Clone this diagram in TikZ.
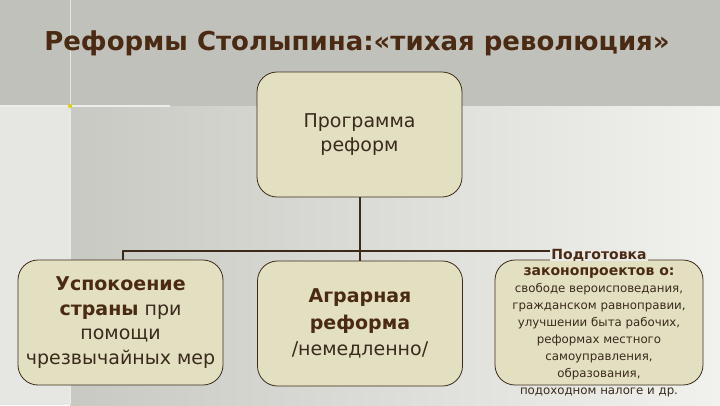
\documentclass[tikz,border=0pt]{standalone}
\usepackage{fontspec}
\setmainfont{DejaVu Sans}
\usepackage{xcolor}
\usetikzlibrary{positioning}
\definecolor{stBand}{HTML}{C1C1BB}
\definecolor{stPaleL}{HTML}{C9C9C4}
\definecolor{stPaleR}{HTML}{F1F1ED}
\definecolor{stStrip}{HTML}{E6E6E2}
\definecolor{stBox}{HTML}{E3E0C2}
\definecolor{stInk}{HTML}{3A2A1C}
\definecolor{stBold}{HTML}{4A2A12}
\definecolor{stLine}{HTML}{3B2A1A}
\tikzset{
  st diagram/.style={x=1pt, y=-1pt, text=stInk, line join=round},
  st box/.style={draw=stLine, fill=stBox, line width=0.8pt,
    rounded corners=20pt, minimum width=205pt, minimum height=125pt,
    align=center, inner sep=0pt},
  st link/.style={draw=stLine, line width=2pt},
  st big/.style={font=\fontsize{19}{24.5}\selectfont, align=center},
  st small/.style={font=\fontsize{11.8}{17}\selectfont, align=center}
}
\newcommand{\stb}[1]{\textbf{\textcolor{stBold}{#1}}}

\begin{document}
\begin{tikzpicture}[st diagram]
\useasboundingbox (0,0) rectangle (720,405);
% background
\shade[left color=stPaleL, right color=stPaleR] (70,106) rectangle (720,405);
\fill[stStrip] (0,106) rectangle (70,405);
\fill[stBand] (0,0) rectangle (720,106);
\draw[white, line width=0.8pt, opacity=0.6] (70,0) -- (70,405);
\draw[white!70!stBand, line width=1.5pt] (0,106) -- (170,106);
\fill[yellow!70!olive] (70,106) circle (2pt);
% title
\node[font=\bfseries\fontsize{26}{30}\selectfont, text=stBold] (title) at (357,43)
  {Реформы Столыпина:«тихая революция»};
% links
\coordinate (bus) at (360,251);
\draw[st link] (360,197) -- (bus);
\draw[st link] (123,261) |- (bus) -| (600,261);
\draw[st link] (bus) -- (360,261);
% boxes
\node[st box, st big] (prog) at (359.5,134.5) {Программа\\реформ};
\node[st box, st big] (calm) at (120.5,322.5)
  {\stb{Успокоение}\\\stb{страны} при\\помощи\\чрезвычайных мер};
\node[st box, st big, font=\fontsize{19}{26.5}\selectfont] (agr) at (360,323.5)
  {\stb{Аграрная}\\\stb{реформа}\\/немедленно/};
\node[st box, minimum width=208pt] (prep) at (599,322.5) {};
\node[st small, fill=stPaleR!81!stPaleL, inner xsep=1pt, inner ysep=0pt] (preptitle) at (599,255)
  {\fontsize{14}{17}\selectfont\stb{Подготовка}};
\node[st small] (preptext) at (599,332)
  {{\fontsize{14}{17}\selectfont\stb{законопроектов о:}}\\свободе вероисповедания,\\
   гражданском равноправии,\\улучшении быта рабочих,\\реформах местного\\
   самоуправления,\\образования,\\подоходном налоге и др.};
\end{tikzpicture}
\end{document}
